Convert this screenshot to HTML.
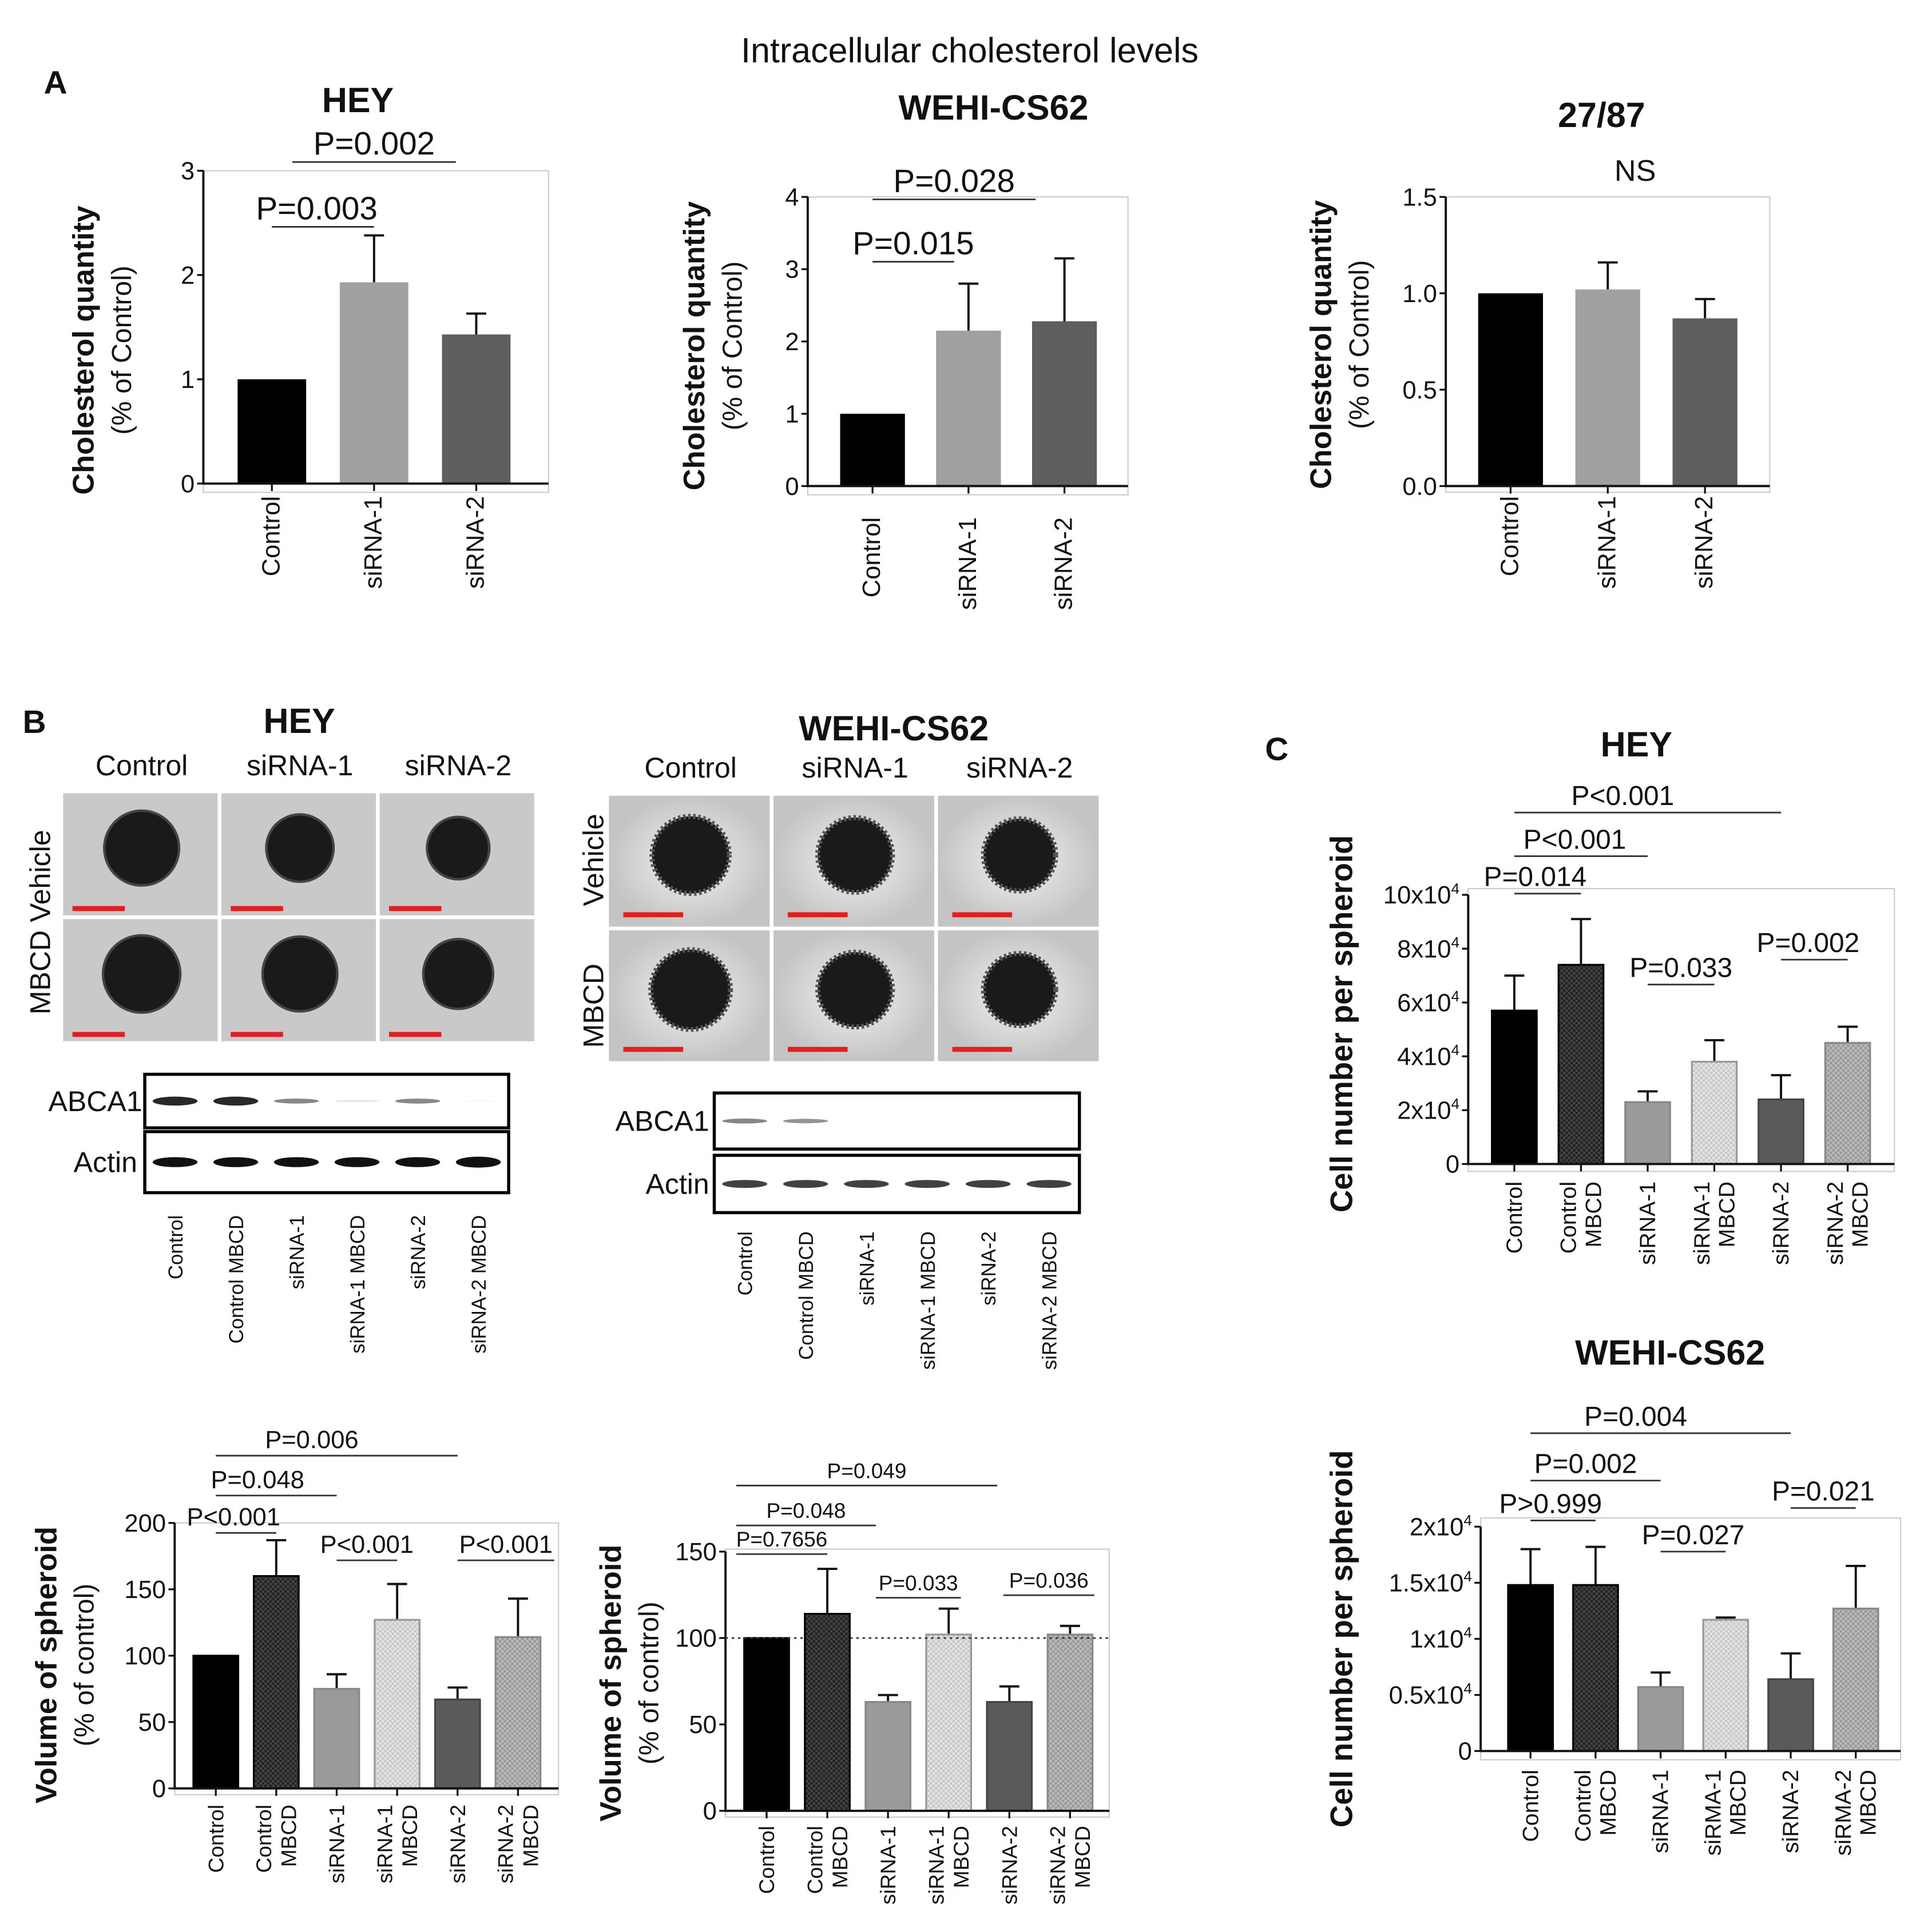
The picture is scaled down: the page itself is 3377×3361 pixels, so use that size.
<!DOCTYPE html>
<html><head><meta charset="utf-8"><style>
html,body{margin:0;padding:0;background:#fff;}
svg{display:block;font-family:"Liberation Sans",sans-serif;}
</style></head><body>
<svg id="fig" width="3377" height="3361" viewBox="0 0 1550 1543" xmlns="http://www.w3.org/2000/svg">
<defs>
<pattern id="pDark" width="4" height="4" patternUnits="userSpaceOnUse"><rect width="4" height="4" fill="#444"/><rect width="2" height="2" fill="#222"/><rect x="2" y="2" width="2" height="2" fill="#222"/></pattern>
<pattern id="pLight" width="4" height="4" patternUnits="userSpaceOnUse"><rect width="4" height="4" fill="#e4e4e4"/><rect width="2" height="2" fill="#c8c8c8"/><rect x="2" y="2" width="2" height="2" fill="#c8c8c8"/></pattern>
<pattern id="pMed" width="4" height="4" patternUnits="userSpaceOnUse"><rect width="4" height="4" fill="#bbb"/><rect width="2" height="2" fill="#999"/><rect x="2" y="2" width="2" height="2" fill="#999"/></pattern>
<radialGradient id="bgG"><stop offset="0" stop-color="#f2f2f2"/><stop offset="1" stop-color="#c4c4c4"/></radialGradient>
</defs>
<g id="root"></g>
</svg>
<script>
// ---- data ----
const catsA = ["Control","siRNA-1","siRNA-2"];
const heyCholVals = [1, 1.93, 1.43];
const heyCholErr = [null, 2.38, 1.63];
const heyCholTicks = [0,1,2,3];
const wehiCholVals = [1, 2.15, 2.28];
const wehiCholErr = [null, 2.8, 3.15];
const wehiCholTicks = [0,1,2,3,4];
const c2787Vals = [1.0, 1.02, 0.87];
const c2787Err = [null, 1.16, 0.97];
const c2787Ticks = [0,0.5,1.0,1.5];
const c2787TickLabels = ["0.0","0.5","1.0","1.5"];
const cats6 = ["Control","Control MBCD","siRNA-1","siRNA-1 MBCD","siRNA-2","siRNA-2 MBCD"];
const heyVolVals = [100,160,75,127,67,114];
const heyVolErr = [null,187,86,154,76,143];
const heyVolTicks = [0,50,100,150,200];
const wehiVolVals = [100,114,63,102,63,102];
const wehiVolErr = [null,140,67,117,72,107];
const wehiVolTicks = [0,50,100,150];
const heyCellVals = [5.7,7.4,2.3,3.8,2.4,4.5];
const heyCellErr = [7.0,9.1,2.7,4.6,3.3,5.1];
const heyCellTicks = [0,2,4,6,8,10];
const wehiCellVals = [1.48,1.48,0.57,1.17,0.64,1.27];
const wehiCellErr = [1.8,1.82,0.7,1.19,0.87,1.65];
const wehiCellTicks = [0,0.5,1,1.5,2];
const wehiCellTickLabels = ["0","0.5x10","1x10","1.5x10","2x10"];

const NS="http://www.w3.org/2000/svg";
const root=document.getElementById('root');
function el(tag,attrs,parent,text){const e=document.createElementNS(NS,tag);for(const k in attrs)e.setAttribute(k,attrs[k]);if(text!==undefined)e.textContent=text;(parent||root).appendChild(e);return e;}
function txt(x,y,s,size,opts,parent){opts=opts||{};const t=el('text',{x:x,y:y,'font-size':size,'text-anchor':opts.anchor||'middle','font-weight':opts.bold?'bold':'normal',fill:'#111'},parent,s);if(opts.rot)t.setAttribute('transform','rotate('+opts.rot+' '+x+' '+y+')');return t;}

const fills3=["#000","#a0a0a0","#5e5e5e"];
const fills6=["#000","url(#pDark)","#9a9a9a","url(#pLight)","#5a5a5a","url(#pMed)"];
const strokes6=["#000","#000","#888","#999","#444","#888"];

function chart(cfg){
  const g=el('g',{});
  
  
  const yS=v=>cfg.y0+(v-cfg.vmin)/(cfg.vmax-cfg.vmin)*(cfg.y1-cfg.y0);
  // frame
  const fr=el('rect',{x:cfg.bx0,y:cfg.by0,width:cfg.bx1-cfg.bx0,height:cfg.by1-cfg.by0,fill:'none',stroke:'#ccc','stroke-width':1},g);
  
  
  const n=cfg.vals.length;
  const xS=i=>cfg.xc0+i*cfg.dx;
  // bars
  cfg.vals.forEach((v,i)=>{
    const x=xS(i), top=yS(v);
    if(cfg.err[i]!=null){
      const ey=yS(cfg.err[i]);
      const l=el('path',{d:'M'+x+' '+top+'V'+ey+'M'+(x-8)+' '+ey+'H'+(x+8),stroke:'#111','stroke-width':1.8,fill:'none'},g);
      
      
    }
    const r=el('rect',{x:x-cfg.bw/2,y:top,width:cfg.bw,height:yS(cfg.vmin)-top,fill:cfg.fills[i],stroke:cfg.strokes?cfg.strokes[i]:'none','stroke-width':1.5},g);
    
    
  });
  // axes
  const ax=el('path',{d:'M'+cfg.ax+' '+yS(cfg.vmax)+'V'+yS(cfg.vmin)+'H'+cfg.bx1,stroke:'#111','stroke-width':1.8,fill:'none'},g);
  
  
  cfg.ticks.forEach((t,i)=>{
    const y=yS(t);
    el('path',{d:'M'+(cfg.ax-5)+' '+y+'H'+cfg.ax,stroke:'#111','stroke-width':1.5},g);
    const lab=cfg.tickLabels?cfg.tickLabels[i]:String(t);
    const tt=txt(cfg.ax-7,y+7,lab,cfg.tfs||20,{anchor:'end'},g);
    
    
    if(cfg.sup && !(t===0)){el('tspan',{dy:-8,'font-size':12},tt,'4');}
  });
  cfg.vals.forEach((v,i)=>{
    const x=xS(i);
    el('path',{d:'M'+x+' '+yS(cfg.vmin)+'v6',stroke:'#111','stroke-width':1.5},g);
    const parts=cfg.labelLines?cfg.labelLines[i]:[cfg.cats[i]];
    parts.forEach((p,k)=>{
      const lx=x+6-(parts.length-1)*10+k*20;
      const tt=txt(lx,cfg.xly,p,cfg.xfs||20,{anchor:'end',rot:-90},g);
      
      
    });
  });
  // y title
  const yt=txt(cfg.ytx,(cfg.by0+cfg.by1)/2+cfg.ytdy,cfg.ytitle,cfg.ytfs||24,{bold:true,rot:-90},g);
  
  
  if(cfg.ytitle2){const y2=txt(cfg.ytx+30,(cfg.by0+cfg.by1)/2+cfg.ytdy,cfg.ytitle2,cfg.ytfs2||22,{rot:-90},g);
    
    }
  if(cfg.dotted){el('path',{d:'M'+cfg.ax+' '+yS(cfg.dotted)+'H'+cfg.bx1,stroke:'#333','stroke-width':1.3,'stroke-dasharray':'2,3'},g);}
  // brackets
  (cfg.brackets||[]).forEach(b=>{
    const l=el('path',{d:'M'+xS(b[0])+' '+b[2]+'H'+xS(b[1]),stroke:'#333','stroke-width':1.3},g);
    
    
    const t=txt((xS(b[0])+xS(b[1]))/2+(b[5]||0),b[2]-6,b[3],b[4],{},g);
    
    
  });
  const ti=txt(cfg.titleX,cfg.titleY,cfg.title,cfg.titleFs||28,{bold:true},g);
  
  
  return g;
}

// Header
let t=txt(778,50,"Intracellular  cholesterol levels",28);


t=txt(35,75,"A",26,{bold:true,anchor:'start'});
t=txt(18,588,"B",26,{bold:true,anchor:'start'});
t=txt(1015,610,"C",26,{bold:true,anchor:'start'});

chart({name:'hey-cholesterol-chart',cats:catsA,vals:heyCholVals,err:heyCholErr,fills:fills3,ticks:heyCholTicks,vmin:0,vmax:3,y0:388,y1:137,
 bx0:163,bx1:440,by0:137,by1:395,ax:163,xc0:218,dx:82,bw:55,xly:398,ytx:75,ytdy:15,ytitle:"Cholesterol quantity",ytitle2:"(% of Control)",
 title:"HEY",titleX:287,titleY:90,brackets:[[0,1,182,"P=0.003",26,-5],[0.2,1.8,130,"P=0.002",26,0]]});
chart({name:'wehi-cholesterol-chart',cats:catsA,vals:wehiCholVals,err:wehiCholErr,fills:fills3,ticks:wehiCholTicks,vmin:0,vmax:4,y0:390,y1:158,
 bx0:648,bx1:905,by0:158,by1:397,ax:648,xc0:700,dx:77,bw:52,xly:415,ytx:565,ytdy:0,ytitle:"Cholesterol quantity",ytitle2:"(% of Control)",
 title:"WEHI-CS62",titleX:797,titleY:96,brackets:[[0,0.85,210,"P=0.015",26,0],[0,1.7,160,"P=0.028",26,0]]});
chart({name:'cell2787-cholesterol-chart',cats:catsA,vals:c2787Vals,err:c2787Err,fills:fills3,ticks:c2787Ticks,tickLabels:c2787TickLabels,vmin:0,vmax:1.5,y0:390,y1:158,
 bx0:1160,bx1:1420,by0:158,by1:395,ax:1160,xc0:1212,dx:78,bw:52,xly:398,ytx:1068,ytdy:0,ytitle:"Cholesterol quantity",ytitle2:"(% of Control)",
 title:"27/87",titleX:1285,titleY:102});
t=txt(1312,145,"NS",24);

const ll=[["Control"],["Control","MBCD"],["siRNA-1"],["siRNA-1","MBCD"],["siRNA-2"],["siRNA-2","MBCD"]];
chart({name:'hey-volume-chart',cats:cats6,vals:heyVolVals,err:heyVolErr,fills:fills6,strokes:strokes6,ticks:heyVolTicks,vmin:0,vmax:200,y0:1435,y1:1222,
 bx0:140,bx1:448,by0:1222,by1:1440,ax:140,xc0:173,dx:48.5,bw:36,xly:1448,labelLines:ll,xfs:17,ytx:45,ytdy:5,ytitle:"Volume of spheroid",ytitle2:"(% of control)",
 title:"",titleX:0,titleY:0,brackets:[[0,1,1230,"P<0.001",20,-10],[0,2,1200,"P=0.048",20,-15],[0,4,1168,"P=0.006",20,-20],[2,3,1252,"P<0.001",20,0],[4,5.6,1252,"P<0.001",20,0]]});
chart({name:'wehi-volume-chart',cats:cats6,vals:wehiVolVals,err:wehiVolErr,fills:fills6,strokes:strokes6,ticks:wehiVolTicks,vmin:0,vmax:150,y0:1453,y1:1245,
 bx0:582,bx1:890,by0:1243,by1:1458,ax:582,xc0:615,dx:48.7,bw:36,xly:1465,labelLines:ll,xfs:17,ytx:498,ytdy:0,ytitle:"Volume of spheroid",ytitle2:"(% of control)",
 dotted:100,title:"",titleX:0,titleY:0,brackets:[[-0.5,1,1247,"P=0.7656",17,0],[-0.5,1.8,1224,"P=0.048",17,0],[-0.5,3.8,1192,"P=0.049",17,0],[1.8,3.2,1282,"P=0.033",17,0],[3.9,5.4,1280,"P=0.036",17,0]]});
const ll2=[["Control"],["Control","MBCD"],["siRNA-1"],["siRNA-1","MBCD"],["siRNA-2"],["siRNA-2","MBCD"]];
chart({name:'hey-cell-number-chart',cats:cats6,vals:heyCellVals,err:heyCellErr,fills:fills6,strokes:strokes6,ticks:heyCellTicks,
 tickLabels:["0","2x10","4x10","6x10","8x10","10x10"],sup:true,vmin:0,vmax:10,y0:934,y1:718,
 bx0:1178,bx1:1520,by0:713,by1:940,ax:1178,xc0:1215,dx:53.5,bw:36,xly:948,labelLines:ll2,xfs:18,ytx:1085,ytdy:-5,ytitle:"Cell number per spheroid",ytfs:25,
 title:"HEY",titleX:1313,titleY:607,brackets:[[0,1,717,"P=0.014",22,-10],[0,2,687,"P<0.001",22,-5],[0,4,652,"P<0.001",22,-20],[2,3,790,"P=0.033",22,0],[4,5,770,"P=0.002",22,-5]]});
chart({name:'wehi-cell-number-chart',cats:cats6,vals:wehiCellVals,err:wehiCellErr,fills:fills6,strokes:strokes6,ticks:wehiCellTicks,
 tickLabels:wehiCellTickLabels,sup:true,vmin:0,vmax:2,y0:1405,y1:1225,
 bx0:1188,bx1:1525,by0:1218,by1:1412,ax:1188,xc0:1228,dx:52.2,bw:36,xly:1420,labelLines:[["Control"],["Control","MBCD"],["siRNA-1"],["siRMA-1","MBCD"],["siRNA-2"],["siRMA-2","MBCD"]],xfs:18,ytx:1085,ytdy:0,ytitle:"Cell number per spheroid",ytfs:25,
 title:"WEHI-CS62",titleX:1340,titleY:1095,brackets:[[0,1,1220,"P>0.999",22,-10],[0,2,1188,"P=0.002",22,-8],[0,4,1150,"P=0.004",22,-20],[2,3,1245,"P=0.027",22,0],[4,5,1210,"P=0.021",22,0]]});

// Microscope panels
function spheroids(name,x0,y0,cw,ch,rows,cols,rowLabels,title,tx,ty,fuzzy){
  const g=el('g',{});
  
  
  let tt=txt(tx,ty,title,28,{bold:true},g);
  
  
  cols.forEach((c,j)=>{const ct=txt(x0+cw*j+cw/2,y0-14,c,23,{},g);});
  for(let r=0;r<rows.length;r++){
    rowLabels[r].forEach(rl=>{const rt=txt(rl[0],rl[1],rl[2],23,{rot:-90},g);});
    for(let j=0;j<3;j++){
      const x=x0+cw*j,y=y0+ch*r;
      const cell=el('rect',{x:x,y:y,width:cw-2,height:ch-2,fill:fuzzy?'url(#bgG)':'#c9c9c9',stroke:'#fff','stroke-width':1},g);
      
      
      const rad=rows[r][j];
      el('circle',{cx:x+cw/2,cy:y+ch/2-6,r:rad,fill:'#1a1a1a',stroke:fuzzy?'#555':'#444','stroke-width':fuzzy?4:2,'stroke-dasharray':fuzzy?'2,2':'none'},g);
      const sb=el('rect',{x:x+8+(fuzzy?4:0),y:y+ch-(fuzzy?14:10),width:fuzzy?48:42,height:4,fill:'#e02020'},g);
      
      
    }
  }
}
spheroids('hey-spheroid-images',50,636,127,101,[[30,27,25],[31,30,28]],["Control","siRNA-1","siRNA-2"],
 [[[40,740,"MBCD Vehicle"]],[]],"HEY",240,588,false);
spheroids('wehi-spheroid-images',488,638,132,108,[[31,30,29],[32,30,29]],["Control","siRNA-1","siRNA-2"],
 [[[484,690,"Vehicle"]],[[484,807,"MBCD"]]],"WEHI-CS62",717,594,true);

// Western blots
function blot(name,x,y,w,h,label,bands,lx,lfs){
  const g=el('g',{});
  
  
  el('rect',{x:x,y:y,width:w,height:h,fill:'#fff',stroke:'#000','stroke-width':2.5},g);
  const lt=txt(lx,y+h/2+8,label,lfs,{anchor:'end'},g);
  
  
  bands.forEach((b,i)=>{
    if(b<=0)return;
    const bx=x+ (i+0.5)*w/6;
    const band=el('ellipse',{cx:bx,cy:y+h/2,rx:18,ry:b*4,fill:'#111','fill-opacity':Math.min(1,b)},g);
    
    
  });
}
blot('hey-abca1-blot',116,862,292,43,'ABCA1',[0.9,0.9,0.5,0.15,0.5,0.05],114,23);
blot('hey-actin-blot',116,908,292,49,'Actin',[1,1,1,1,1,1.1],110,23);
blot('wehi-abca1-blot',573,877,293,45,'ABCA1',[0.5,0.45,0,0,0,0],569,23);
blot('wehi-actin-blot',573,927,293,46,'Actin',[0.8,0.8,0.8,0.8,0.8,0.8],569,23);
const bl=["Control","Control MBCD","siRNA-1","siRNA-1 MBCD","siRNA-2","siRNA-2 MBCD"];
bl.forEach((s,i)=>{
  let a=txt(116+(i+0.5)*292/6+6,975,s,16,{anchor:'end',rot:-90});
  
  
  a=txt(573+(i+0.5)*293/6+6,988,s,16,{anchor:'end',rot:-90});
  
  
});
</script>
</body></html>
